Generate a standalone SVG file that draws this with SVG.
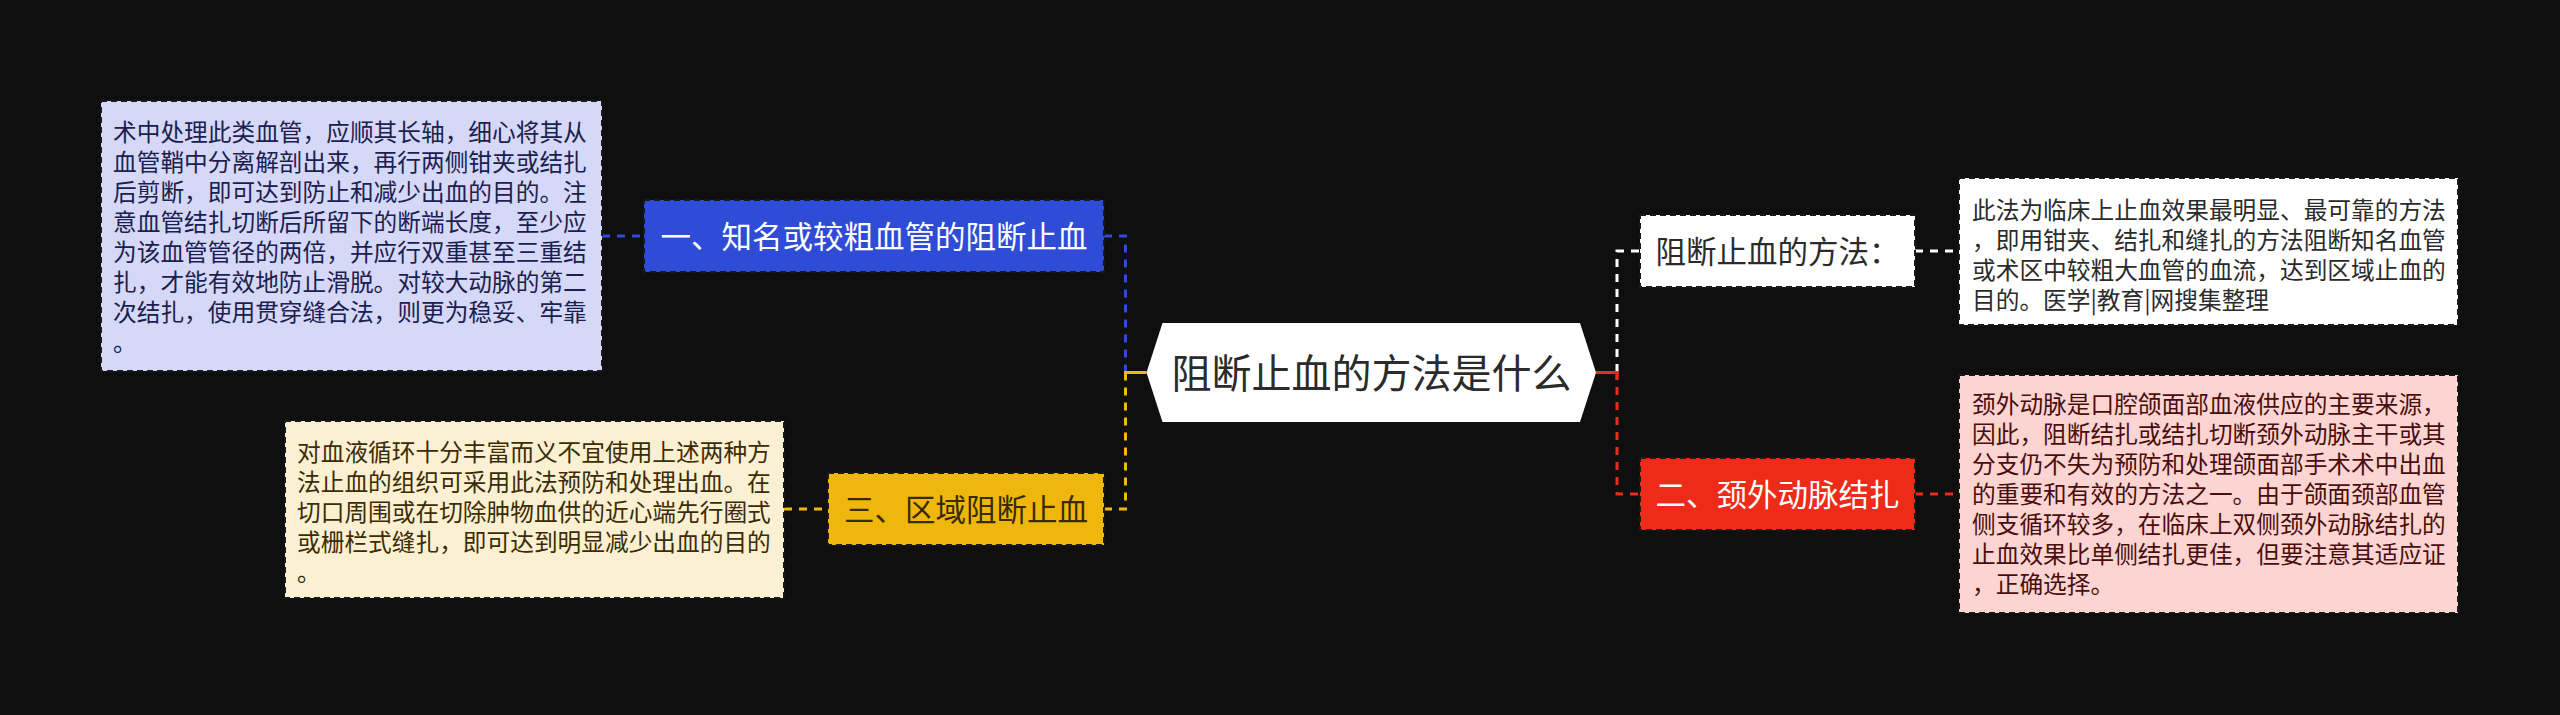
<svg xmlns="http://www.w3.org/2000/svg" width="2560" height="715" viewBox="0 0 2560 715">
<style>
text{font-family:"Noto Sans CJK SC","Noto Sans",sans-serif;}
.d{font-size:23.7px;}
.l1{font-size:30.5px;text-anchor:middle;}
.c{font-size:40px;text-anchor:middle;fill:#2b2b2b;}
.box{stroke:#1a1a1a;stroke-width:2;stroke-dasharray:6 4;}
.cn{fill:none;stroke-width:3;}
.dash{stroke-dasharray:8 7;}
</style>
<rect width="2560" height="715" fill="#0f0f0f"/>
<g id="connectors">
  <path class="cn dash" stroke="#2e4cd6" d="M602 236 H644"/>
  <path class="cn dash" stroke="#2e4cd6" d="M1104 236 H1125.5 V372"/>
  <path class="cn dash" stroke="#f0b90b" d="M784 509 H828"/>
  <path class="cn dash" stroke="#f0b90b" d="M1104 509 H1125.5 V372"/>
  <path class="cn" stroke="#f0b90b" d="M1146.5 372.5 H1125.5 V380"/>
  <path class="cn dash" stroke="#ffffff" d="M1617 372 V251 H1640"/>
  <path class="cn dash" stroke="#ffffff" d="M1915 251 H1959"/>
  <path class="cn dash" stroke="#ee2a18" d="M1617 372 V494 H1640"/>
  <path class="cn" stroke="#ee2a18" d="M1596 372.5 H1617 V380"/>
  <path class="cn dash" stroke="#ee2a18" d="M1915 494 H1959"/>
</g>
<g id="center">
  <polygon points="1146.5,372.5 1162.5,323 1580,323 1596,372.5 1580,422 1162.5,422" fill="#ffffff"/>
  <text class="c" x="1371.5" y="387.7">阻断止血的方法是什么</text>
</g>
<g id="n1">
  <rect class="box" x="644" y="200" width="460" height="72" fill="#2e4cd6"/>
  <text class="l1" x="874" y="247.6" fill="#ffffff">一、知名或较粗血管的阻断止血</text>
</g>
<g id="n1d">
  <rect class="box" x="101" y="101" width="501" height="270" fill="#d5d8f6"/>
  <g class="d" fill="#1b2050">
    <text x="113" y="141">术中处理此类血管，应顺其长轴，细心将其从</text>
    <text x="113" y="171">血管鞘中分离解剖出来，再行两侧钳夹或结扎</text>
    <text x="113" y="201">后剪断，即可达到防止和减少出血的目的。注</text>
    <text x="113" y="231">意血管结扎切断后所留下的断端长度，至少应</text>
    <text x="113" y="261">为该血管管径的两倍，并应行双重甚至三重结</text>
    <text x="113" y="291">扎，才能有效地防止滑脱。对较大动脉的第二</text>
    <text x="113" y="321">次结扎，使用贯穿缝合法，则更为稳妥、牢靠</text>
    <text x="113" y="351">。</text>
  </g>
</g>
<g id="n3">
  <rect class="box" x="828" y="473" width="276" height="72" fill="#efb70c"/>
  <text class="l1" x="966" y="520.6" fill="#3a2a00">三、区域阻断止血</text>
</g>
<g id="n3d">
  <rect class="box" x="285" y="421" width="499" height="177" fill="#fcf0d2"/>
  <g class="d" fill="#3b2c05">
    <text x="297" y="461">对血液循环十分丰富而义不宜使用上述两种方</text>
    <text x="297" y="491">法止血的组织可采用此法预防和处理出血。在</text>
    <text x="297" y="521">切口周围或在切除肿物血供的近心端先行圈式</text>
    <text x="297" y="551">或栅栏式缝扎，即可达到明显减少出血的目的</text>
    <text x="297" y="581">。</text>
  </g>
</g>
<g id="n0">
  <rect class="box" x="1640" y="215" width="275" height="72" fill="#ffffff"/>
  <text class="l1" x="1777.5" y="262.6" fill="#2b2b2b">阻断止血的方法：</text>
</g>
<g id="n0d">
  <rect class="box" x="1959" y="178" width="499" height="147" fill="#ffffff"/>
  <g class="d" fill="#2b2b2b">
    <text x="1972" y="219">此法为临床上止血效果最明显、最可靠的方法</text>
    <text x="1972" y="249">，即用钳夹、结扎和缝扎的方法阻断知名血管</text>
    <text x="1972" y="279">或术区中较粗大血管的血流，达到区域止血的</text>
    <text x="1972" y="309">目的。医学|教育|网搜集整理</text>
  </g>
</g>
<g id="n2">
  <rect class="box" x="1640" y="458" width="275" height="72" fill="#ee2a18"/>
  <text class="l1" x="1777.5" y="505.6" fill="#ffffff">二、颈外动脉结扎</text>
</g>
<g id="n2d">
  <rect class="box" x="1959" y="375" width="499" height="238" fill="#fcd5d2"/>
  <g class="d" fill="#4a0d0d">
    <text x="1972" y="413">颈外动脉是口腔颌面部血液供应的主要来源，</text>
    <text x="1972" y="443">因此，阻断结扎或结扎切断颈外动脉主干或其</text>
    <text x="1972" y="473">分支仍不失为预防和处理颌面部手术术中出血</text>
    <text x="1972" y="503">的重要和有效的方法之一。由于颌面颈部血管</text>
    <text x="1972" y="533">侧支循环较多，在临床上双侧颈外动脉结扎的</text>
    <text x="1972" y="563">止血效果比单侧结扎更佳，但要注意其适应证</text>
    <text x="1972" y="593">，正确选择。</text>
  </g>
</g>
</svg>
